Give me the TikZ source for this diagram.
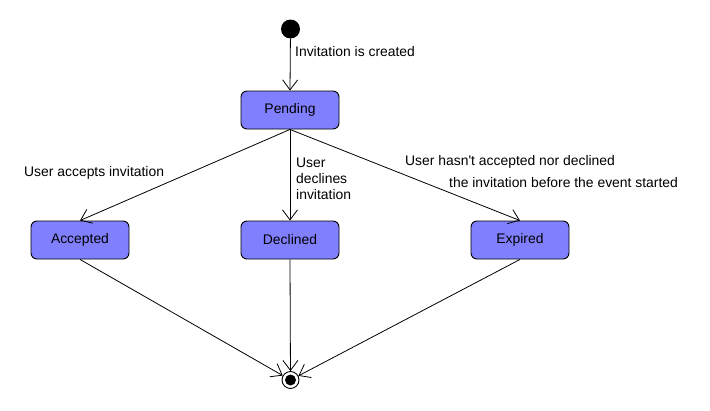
\documentclass[tikz,border=0pt]{standalone}
\usepackage{fontspec}
\setmainfont{Liberation Sans}[Ligatures=TeXOff]
\usetikzlibrary{arrows.meta}
\begin{document}
\begin{tikzpicture}[x=1pt,y=-1pt,
  every node/.style={font=\fontsize{13.9}{16}\selectfont},
  state/.style={draw=black, line width=0.9pt, fill={rgb,255:red,128;green,128;blue,255}, rounded corners=6pt, minimum width=98pt, minimum height=38pt, inner sep=0pt},
  trans/.style={draw=black, line width=0.8pt, -{Straight Barb[length=10pt,width=15pt,line width=0.8pt]}},
  lbl/.style={inner sep=0pt, align=left}]
\useasboundingbox (0,0) rectangle (710,410);
\fill[white] (0,0) rectangle (710,410);
\node[circle, fill=black, minimum size=19pt, inner sep=0pt] (init) at (290.5,29) {};
\node[state] (pending) at (290,110) {Pending};
\node[state] (accepted) at (80,240) {Accepted};
\node[state] (declined) at (290,240) {Declined};
\node[state] (expired) at (520,240) {Expired};
\node[circle, draw=black, line width=0.9pt, fill=white, minimum size=17pt, inner sep=0pt] (final) at (290.5,380) {};
\node[circle, fill=black, minimum size=11pt, inner sep=0pt] (finalin) at (final.center) {};
\draw[trans] (init) -- (pending.north);
\draw[trans] (pending.south) -- (accepted.north);
\draw[trans] (pending.south) -- (declined.north);
\draw[trans] (pending.south) -- (expired.north);
\draw[trans] (accepted.south) -- (final);
\draw[trans] (declined.south) -- (final);
\draw[trans] (expired.south) -- (final);
\node[lbl, anchor=west] (l1) at (295,52) {Invitation is created};
\node[lbl, anchor=west] (l2) at (24,173) {User accepts invitation};
\node[lbl, anchor=west] (l3) at (296,179) {User\\declines\\invitation};
\node[lbl, anchor=west] (l4) at (405,162) {User hasn't accepted nor declined};
\node[lbl, anchor=west] (l5) at (449,183) {the invitation before the event started};
\end{tikzpicture}
\end{document}
